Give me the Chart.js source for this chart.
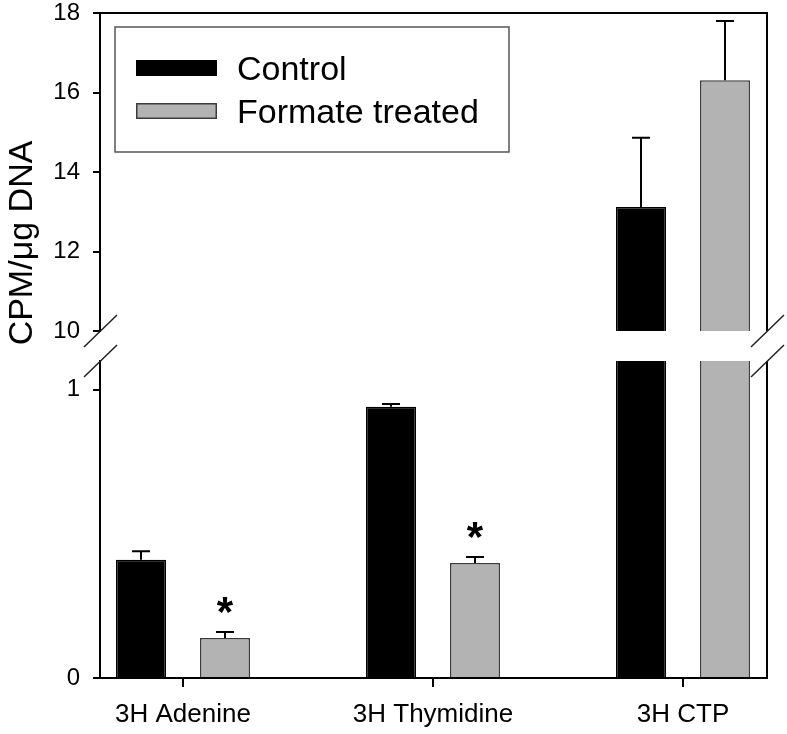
<!DOCTYPE html>
<html>
<head>
<meta charset="utf-8">
<script src="https://cdn.jsdelivr.net/npm/chart.js@4.4.0/dist/chart.umd.min.js"></script>
<style>
    html, body { margin: 0; padding: 0; background: #fff; }
    #wrap { position: relative; width: 787px; height: 734px; }
    #wrap canvas { position: absolute; left: 0; top: 0; }
</style>
</head>
<body>
<div id="wrap">
    <canvas id="lowerChart" width="787" height="734"></canvas>
    <canvas id="upperChart" width="787" height="734"></canvas>
</div>
<script>
// Datos
const categories = ['3H Adenine', '3H Thymidine', '3H CTP'];
const positions = [1, 2, 3];
const controlValues = [0.41, 0.941, 13.12];
const controlErrors = [0.03, 0.01, 1.74];
const formateValues = [0.139, 0.399, 16.31];
const formateErrors = [0.021, 0.021, 1.49];
const formateSignificant = [true, true, false];
const upperTicks = [10, 12, 14, 16, 18];
const lowerTicks = [0, 1];

const FONT = "'Liberation Sans', Arial, sans-serif";
Chart.defaults.font.family = FONT;
Chart.defaults.color = '#000';

const colors = {
    control: '#000000',
    formate: '#b3b3b3',
    formateBorder: '#3c3c3c',
    axis: '#000000'
};

function makeDatasets() {
    return [{
        label: 'Control',
        data: controlValues,
        errors: controlErrors,
        backgroundColor: colors.control,
        borderColor: colors.control,
        borderWidth: 1.5,
        clip: 0
    }, {
        label: 'Formate treated',
        data: formateValues,
        errors: formateErrors,
        significant: formateSignificant,
        backgroundColor: colors.formate,
        borderColor: colors.formateBorder,
        borderWidth: 1.5,
        clip: 0
    }];
}

// barras de error (solo hacia arriba) y asteriscos
const errorBars = {
    id: 'errorBars',
    afterDatasetsDraw(chart) {
        const { ctx, chartArea: a, scales: { y } } = chart;
        ctx.save();
        ctx.beginPath();
        ctx.rect(a.left, a.top, a.right - a.left, a.bottom - a.top);
        ctx.clip();
        ctx.strokeStyle = '#000';
        ctx.lineWidth = 2;
        chart.data.datasets.forEach((ds, i) => {
            chart.getDatasetMeta(i).data.forEach((bar, j) => {
                const top = y.getPixelForValue(ds.data[j]);
                const end = y.getPixelForValue(ds.data[j] + ds.errors[j]);
                ctx.beginPath();
                ctx.moveTo(bar.x, top);
                ctx.lineTo(bar.x, end);
                ctx.moveTo(bar.x - 9, end);
                ctx.lineTo(bar.x + 9, end);
                ctx.stroke();
                if (ds.significant && ds.significant[j]) {
                    ctx.fillStyle = '#000';
                    ctx.font = 'bold 42px ' + FONT;
                    ctx.textAlign = 'center';
                    ctx.textBaseline = 'alphabetic';
                    ctx.fillText('*', bar.x, end - 6);
                }
            });
        });
        ctx.restore();
    }
};

// marco y cortes del eje
const frame = {
    id: 'frame',
    afterDraw(chart, args, opts) {
        const { ctx, chartArea: a } = chart;
        ctx.save();
        ctx.strokeStyle = colors.axis;
        ctx.lineWidth = 2;
        ctx.beginPath();
        if (opts.part === 'upper') {
            ctx.moveTo(a.left, a.top);
            ctx.lineTo(a.right, a.top);
            ctx.lineTo(a.right, a.bottom);
        } else {
            ctx.moveTo(a.right, a.top);
            ctx.lineTo(a.right, a.bottom);
        }
        ctx.stroke();
        const cy = opts.part === 'upper' ? a.bottom : a.top;
        ctx.strokeStyle = '#222';
        ctx.lineWidth = 1.5;
        [a.left, a.right].forEach(cx => {
            ctx.beginPath();
            ctx.moveTo(cx - 16, cy + 16);
            ctx.lineTo(cx + 17, cy - 16);
            ctx.stroke();
        });
        ctx.restore();
    }
};

// leyenda con recuadro
const boxLegend = {
    id: 'boxLegend',
    afterDraw(chart) {
        const { ctx, chartArea: a } = chart;
        const left = a.left + 15, top = a.top + 14;
        ctx.save();
        ctx.strokeStyle = '#555';
        ctx.lineWidth = 1.5;
        ctx.strokeRect(left, top, 394, 125);
        chart.data.datasets.forEach((ds, i) => {
            const cy = top + 41 + i * 43;
            ctx.fillStyle = ds.backgroundColor;
            ctx.fillRect(left + 21, cy - 8, 81, 16);
            ctx.strokeStyle = ds.borderColor;
            ctx.lineWidth = 1.5;
            ctx.strokeRect(left + 21.75, cy - 7.25, 79.5, 14.5);
            ctx.fillStyle = '#000';
            ctx.font = '34px ' + FONT;
            ctx.textAlign = 'left';
            ctx.textBaseline = 'alphabetic';
            ctx.fillText(ds.label, left + 122, cy + 12);
        });
        ctx.restore();
    }
};

// título del eje y
const yTitle = {
    id: 'yTitle',
    afterDraw(chart) {
        const ctx = chart.ctx;
        ctx.save();
        ctx.translate(32, 243);
        ctx.rotate(-Math.PI / 2);
        ctx.fillStyle = '#000';
        ctx.font = '34px ' + FONT;
        ctx.textAlign = 'center';
        ctx.textBaseline = 'alphabetic';
        ctx.fillText('CPM/\u03bcg DNA', 0, 0);
        ctx.restore();
    }
};

function yScale(min, max, ticks) {
    return {
        min: min,
        max: max,
        afterFit: function (scale) {
            scale.width = 100;
            scale.paddingTop = 0;
            scale.paddingBottom = 0;
        },
        afterBuildTicks: function (scale) { scale.ticks = ticks.map(v => ({ value: v })); },
        grid: { drawOnChartArea: false, drawTicks: true, tickLength: 7, color: colors.axis, lineWidth: 2 },
        border: { display: true, color: colors.axis, width: 2 },
        ticks: { color: '#000', padding: 13, font: { size: 24, lineHeight: 1 } }
    };
}

function xScale(show) {
    return {
        type: 'linear',
        display: show,
        min: 0.668,
        max: 3.336,
        offset: false,
        afterFit: function (scale) {
            if (show) scale.height = 56;
            scale.paddingLeft = 0;
            scale.paddingRight = 0;
        },
        afterBuildTicks: function (scale) { scale.ticks = positions.map(v => ({ value: v })); },
        grid: { offset: false, drawOnChartArea: false, drawTicks: true, tickLength: 9, color: colors.axis, lineWidth: 2 },
        border: { display: true, color: colors.axis, width: 2 },
        ticks: {
            color: '#000',
            padding: 12,
            maxRotation: 0,
            autoSkip: false,
            font: { size: 26 },
            callback: function (value, index) { return categories[index]; }
        }
    };
}

function baseOptions(part, padding, y) {
    return {
        responsive: false,
        animation: false,
        events: [],
        categoryPercentage: 0.672,
        barPercentage: 0.595,
        layout: { padding: padding },
        plugins: {
            legend: { display: false },
            tooltip: { enabled: false },
            frame: { part: part }
        },
        scales: {
            x: xScale(part === 'lower'),
            y: y
        }
    };
}

// Parte inferior (0 - 1)
new Chart(document.getElementById('lowerChart'), {
    type: 'bar',
    data: { labels: positions, datasets: makeDatasets() },
    options: baseOptions('lower', { top: 361, right: 20, bottom: 0, left: 0 }, yScale(0, 1.1, lowerTicks)),
    plugins: [errorBars, frame]
});

// Parte superior (10 - 18)
new Chart(document.getElementById('upperChart'), {
    type: 'bar',
    data: { labels: positions, datasets: makeDatasets() },
    options: baseOptions('upper', { top: 13, right: 20, bottom: 403, left: 0 }, yScale(10, 18, upperTicks)),
    plugins: [errorBars, frame, boxLegend, yTitle]
});
</script>
</body>
</html>
